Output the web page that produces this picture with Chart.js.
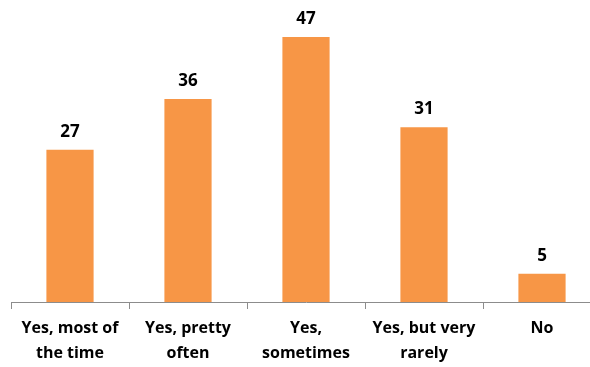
<!DOCTYPE html>
<html>
<head>
<meta charset="utf-8">
<script src="https://cdn.jsdelivr.net/npm/chart.js@4/dist/chart.umd.min.js"></script>
<style>
  html, body { margin: 0; padding: 0; background: #fff; overflow: hidden; }
  #wrap { position: absolute; left: 0; top: 0; width: 601px; height: 367px; }
</style>
</head>
<body>
<div id="wrap"><canvas id="chart" width="601" height="367"></canvas></div>
<script>
// categories (multi-line labels) and values
const categories = [
  ['Yes, most of', 'the time'],
  ['Yes, pretty', 'often'],
  ['Yes,', 'sometimes'],
  ['Yes, but very', 'rarely'],
  'No'
];
const values = [27, 36, 47, 31, 5];

const barColor = '#F79646';
const fontFamily = "'Open Sans', 'Liberation Sans', sans-serif";

// value labels above each bar
const valueLabels = {
  id: 'valueLabels',
  afterDatasetsDraw(chart) {
    const { ctx } = chart;
    const meta = chart.getDatasetMeta(0);
    ctx.save();
    ctx.font = 'bold 17px ' + fontFamily;
    ctx.fillStyle = '#000';
    ctx.textAlign = 'center';
    ctx.textBaseline = 'alphabetic';
    meta.data.forEach((bar, i) => {
      ctx.fillText(values[i], bar.x, bar.y - 13);
    });
    ctx.restore();
  }
};

new Chart(document.getElementById('chart'), {
  type: 'bar',
  data: {
    labels: categories,
    datasets: [{
      data: values,
      backgroundColor: barColor,
      borderWidth: 0,
      barPercentage: 0.4,
      categoryPercentage: 1.0
    }]
  },
  options: {
    responsive: false,
    animation: false,
    layout: { padding: { left: 11, right: 0, top: 20, bottom: 0 } },
    plugins: { legend: { display: false }, tooltip: { enabled: false } },
    scales: {
      y: { display: false, min: 0, max: 50 },
      x: {
        afterFit(scale) { scale.height = 65; },
        grid: {
          offset: true,
          drawOnChartArea: false,
          tickLength: 7,
          color: '#8c8c8c'
        },
        border: { color: '#8c8c8c', width: 1 },
        ticks: {
          color: '#000',
          padding: 7,
          maxRotation: 0,
          autoSkip: false,
          font: { family: fontFamily, size: 16, weight: 'bold', lineHeight: 1.56 }
        }
      }
    }
  },
  plugins: [valueLabels]
});
</script>
</body>
</html>
